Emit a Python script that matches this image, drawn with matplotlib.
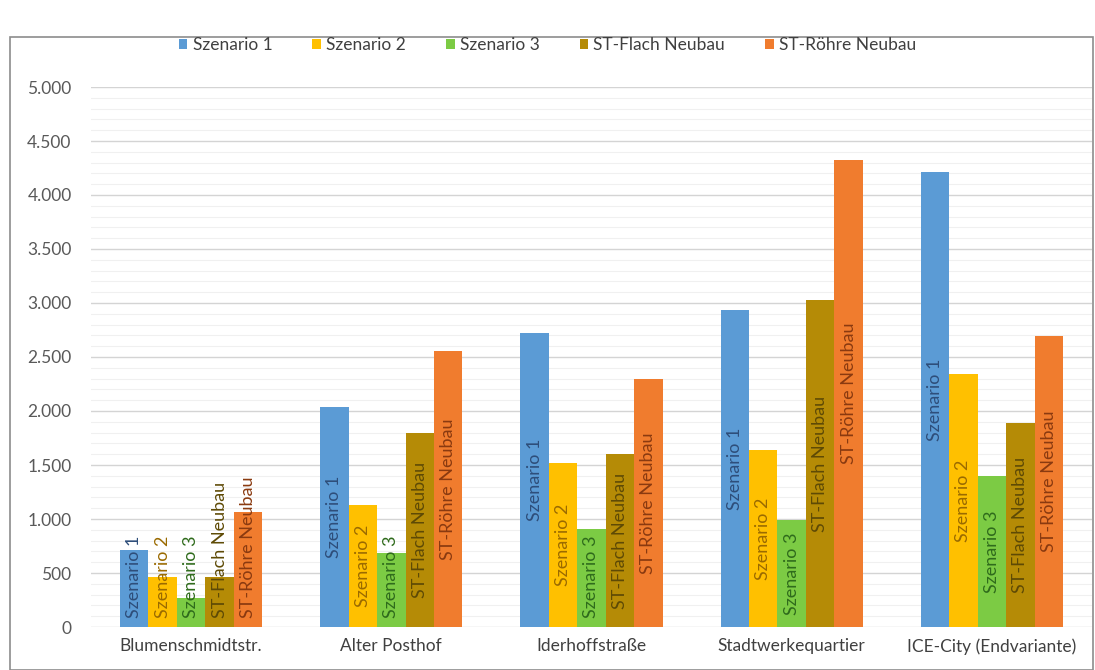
import numpy as np
import matplotlib
matplotlib.use("Agg")
import matplotlib.pyplot as plt
from matplotlib.patches import Rectangle
from matplotlib.ticker import FuncFormatter, MultipleLocator

plt.rcParams['font.family'] = ['Lato', 'DejaVu Sans']

# data
categories = ["Blumenschmidtstr.", "Alter Posthof", "Iderhoffstraße",
              "Stadtwerkequartier", "ICE-City (Endvariante)"]
series = ["Szenario 1", "Szenario 2", "Szenario 3", "ST-Flach Neubau", "ST-Röhre Neubau"]
szenario_1 = [710, 2040, 2720, 2935, 4215]
szenario_2 = [460, 1130, 1515, 1640, 2340]
szenario_3 = [270, 685, 905, 990, 1400]
st_flach = [460, 1800, 1600, 3025, 1890]
st_roehre = [1065, 2560, 2295, 4325, 2695]
values = [szenario_1, szenario_2, szenario_3, st_flach, st_roehre]

bar_colors = ["#5B9BD5", "#FFC000", "#7CCB44", "#B58B06", "#F07C2E"]
label_colors = ["#2E4E7A", "#9A6A00", "#2F6B1C", "#5E4A05", "#8A3A10"]

fig = plt.figure(figsize=(10.95, 6.70), dpi=100)
ax = fig.add_axes([91 / 1095, 1 - 627 / 670, 1001 / 1095, 540 / 670])

# outer chart border
fig.patches.append(Rectangle((10 / 1095, 0.0), 1083 / 1095, 1 - 37 / 670,
                             transform=fig.transFigure, fill=False,
                             edgecolor="#8C8C8C", linewidth=1.2))

x = np.arange(len(categories))
width = 0.142
offsets = (np.arange(len(series)) - 2) * width

bars_all = []
for i, name in enumerate(series):
    b = ax.bar(x + offsets[i], values[i], width, color=bar_colors[i], label=name, zorder=3)
    bars_all.append(b)

ax.set_xlim(-0.5, len(categories) - 0.5)
ax.set_ylim(0, 5000)
ax.yaxis.set_major_locator(MultipleLocator(500))
ax.yaxis.set_minor_locator(MultipleLocator(100))
ax.yaxis.set_major_formatter(FuncFormatter(lambda v, p: f"{int(v):,}".replace(",", ".")))
ax.grid(axis="y", which="major", color="#D4D4D4", linewidth=1.0, zorder=0)
ax.grid(axis="y", which="minor", color="#F0F0F0", linewidth=0.8, zorder=0)
ax.set_axisbelow(True)
for s in ax.spines.values():
    s.set_visible(False)
ax.tick_params(axis="both", which="both", length=0)
ax.tick_params(axis="y", labelsize=12.5, labelcolor="#595959", pad=14)
ax.set_xticks(x)
ax.set_xticklabels(categories, fontsize=12.5, color="#404040")
ax.tick_params(axis="x", pad=8)

# rotated series labels inside the bars
texts = []
for i, name in enumerate(series):
    for j, v in enumerate(values[i]):
        t = ax.text(x[j] + offsets[i], v / 2, name, rotation=90, ha="center", va="center",
                    fontsize=13, color=label_colors[i], zorder=4)
        texts.append((t, v))

fig.canvas.draw()
renderer = fig.canvas.get_renderer()
ax_h_px = ax.get_window_extent().height
units_per_px = 5000 / ax_h_px
for t, v in texts:
    half = t.get_window_extent(renderer).height / 2
    t.set_y(max(v / 2, (half + 9) * units_per_px))

leg = fig.legend(handles=[b for b in bars_all], labels=series, loc="center",
                 bbox_to_anchor=(0.5, 1 - 45 / 670), ncol=5, frameon=False,
                 fontsize=12.5, handlelength=0.5, handleheight=0.5,
                 handletextpad=0.3, columnspacing=2.3)
for txt in leg.get_texts():
    txt.set_color("#404040")

fig.savefig("out.png", dpi=100)
